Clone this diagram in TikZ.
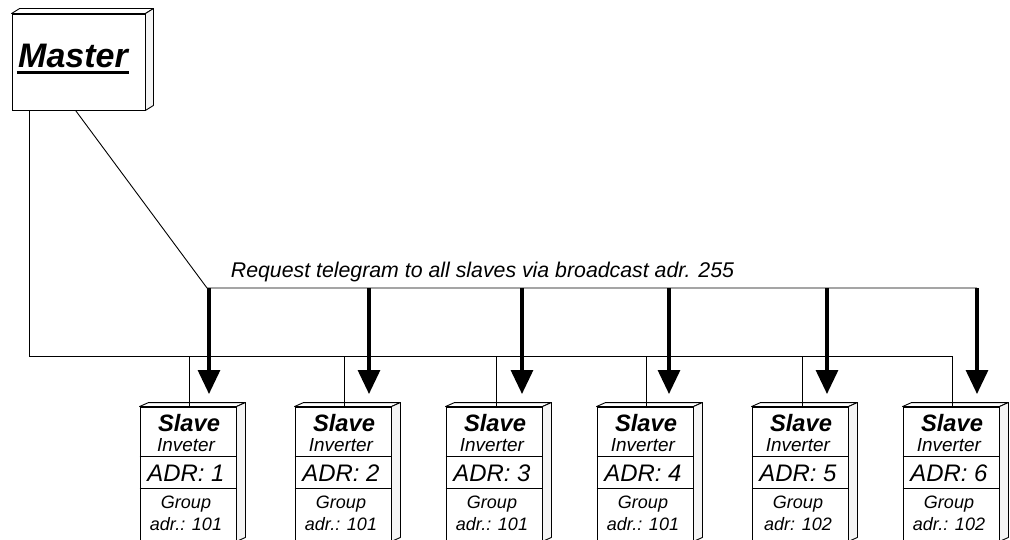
\documentclass[tikz,border=0pt]{standalone}
\usepackage{fontspec}
\setmainfont{Liberation Sans}
\usetikzlibrary{arrows.meta,calc}
\begin{document}
\begin{tikzpicture}[x=1pt,y=-1pt,
  thinline/.style={line width=0.9pt},
  box/.style={draw,line width=0.9pt,fill=white,inner sep=0pt},
  topface/.style={draw,line width=0.9pt,fill=white,line join=round},
  sideface/.style={draw,line width=0.9pt,fill=gray!8,line join=round},
  bigarrow/.style={line width=3.2pt,-{Triangle[width=22pt,length=24pt]}},
  mastertext/.style={font=\fontsize{34}{38}\selectfont\bfseries\itshape,inner sep=0pt},
  slavetitle/.style={font=\fontsize{23.7}{27}\selectfont\bfseries\itshape,inner sep=0pt},
  slavesub/.style={font=\fontsize{18.9}{22}\selectfont\itshape,inner sep=0pt},
  adrtext/.style={font=\fontsize{23.9}{27}\selectfont\itshape,inner sep=0pt},
  grptext/.style={font=\fontsize{18}{21}\selectfont\itshape,inner sep=0pt},
  reqtext/.style={font=\fontsize{21.3}{25}\selectfont\itshape,inner sep=0pt}
]
\useasboundingbox (0,0) rectangle (1010,540);

% Master
\node[box,minimum width=133pt,minimum height=96pt] (m) at (78.5,62) {};
\draw[topface] (m.north west) -- ++(8,-5) -- ($(m.north east)+(8,-5)$) -- (m.north east) -- cycle;
\draw[sideface] (m.north east) -- ++(8,-5) -- ($(m.south east)+(8,-5)$) -- (m.south east) -- cycle;
\node[mastertext,anchor=base] (mt) at (73,67.5) {Master};
\draw[line width=2.2pt] ($(mt.base west)+(-1,5)$) -- ($(mt.base east)+(1,5)$);
\coordinate (mL) at ($(m.south west)+(18,0)$);
\coordinate (mD) at ($(m.south west)+(64,0)$);

% Slaves
\foreach \i/\L/\off/\ax/\inv/\grp in {
  1/140/50/209/Inveter/adr.: 101,
  2/295/50/369/Inverter/adr.: 101,
  3/446/51/522/Inverter/adr.: 101,
  4/597/50/669/Inverter/adr.: 101,
  5/752/51/827/Inverter/adr: 102,
  6/903/50/977/Inverter/adr.: 102}{
  \node[box,minimum width=96pt,minimum height=134pt] (s\i) at (\L+48,474) {};
  \draw[topface] (s\i.north west) -- ++(9,-4) -- ($(s\i.north east)+(9,-4)$) -- (s\i.north east) -- cycle;
  \draw[sideface] (s\i.north east) -- ++(9,-4) -- ($(s\i.south east)+(9,-4)$) -- (s\i.south east) -- cycle;
  \draw[thinline] ($(s\i.north west)+(0,50)$) -- ($(s\i.north east)+(0,50)$);
  \draw[thinline] ($(s\i.north west)+(0,82)$) -- ($(s\i.north east)+(0,82)$);
  \node[slavetitle,anchor=base] (t\i) at ($(s\i.north)+(1,25)$) {Slave};
  \node[slavesub,anchor=base] (u\i) at ($(s\i.north)+(-2,45)$) {\inv};
  \node[adrtext,anchor=base] (a\i) at ($(s\i.north)+(-2,74.5)$) {ADR: \i};
  \node[grptext,anchor=base] (g\i) at ($(s\i.north)+(-2,102)$) {Group};
  \node[grptext,anchor=base] (h\i) at ($(s\i.north)+(-2,124)$) {\grp};
  \coordinate (d\i) at ($(s\i.north west)+(\off,0)$);
  \coordinate (b\i) at ($(s\i.north west)+(\off,-50)$);
  \coordinate (as\i) at (\ax,288);
  \coordinate (ae\i) at (\ax,394);
}

% lower bus
\draw[thinline] (mL) |- (b6) -- (d6);
\foreach \i in {1,...,5}{\draw[thinline] (b\i) -- (d\i);}

% upper bus (broadcast)
\coordinate (u0) at (207,288);
\draw[thinline] (mD) -- (u0) -- (as6);
\foreach \i in {1,...,6}{\draw[bigarrow] (as\i) -- (ae\i);}

\node[reqtext,anchor=base] (req) at (482.5,277.5) {Request telegram to all slaves via broadcast adr. 255};
\end{tikzpicture}
\end{document}
